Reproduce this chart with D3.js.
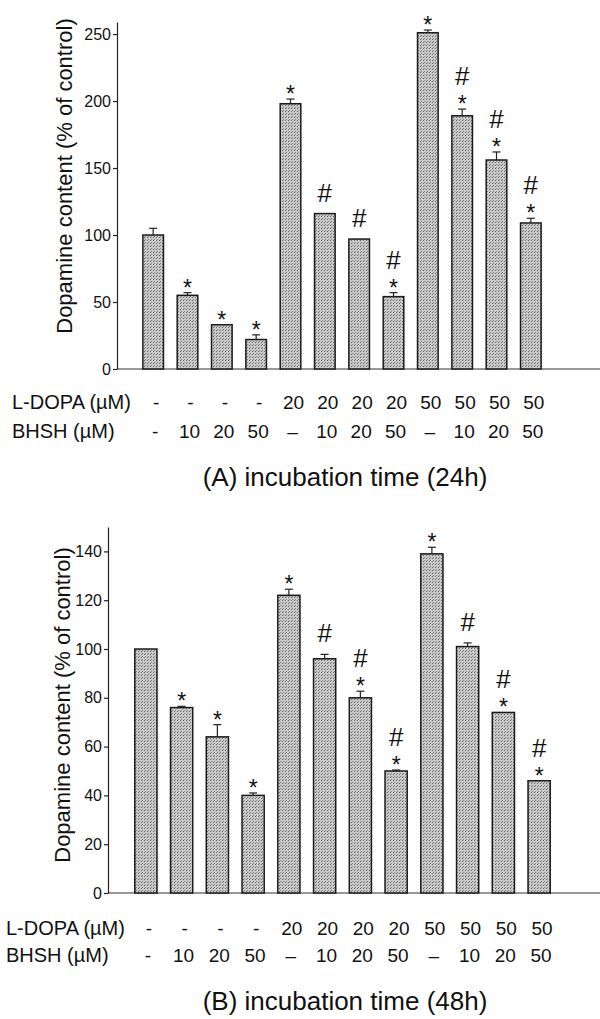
<!DOCTYPE html>
<html lang="en">
<head>
<meta charset="utf-8">
<title>Dopamine content</title>
<script src="https://cdn.jsdelivr.net/npm/d3@7/dist/d3.min.js"></script>
<style>
  body { margin: 0; background: #fff; }
  svg text { font-family: "Liberation Sans", Arial, sans-serif; fill: #111; }
  .axis path, .axis line { stroke: #222; stroke-width: 1.2; }
  .axis text { font-size: 16px; }
</style>
</head>
<body>
<script>
// treatment labels (same for both panels)
var ldopa = ["-", "-", "-", "-", "20", "20", "20", "20", "50", "50", "50", "50"];
var bhsh  = ["-", "10", "20", "50", "\u2013", "10", "20", "50", "\u2013", "10", "20", "50"];

// (A) 24h
var values24 = [100, 55, 33, 22, 198, 116, 97, 54, 251, 189, 156, 109];
var err24    = [5, 2, 0, 3.5, 3.5, 0, 0, 3, 2, 5, 6, 3.5];
var star24   = [0, 1, 1, 1, 1, 0, 0, 1, 1, 1, 1, 1];
var hash24   = [0, 0, 0, 0, 0, 1, 1, 1, 0, 1, 1, 1];
var ticks24  = [0, 50, 100, 150, 200, 250];

// (B) 48h
var values48 = [100, 76, 64, 40, 122, 96, 80, 50, 139, 101, 74, 46];
var err48    = [0, 0.5, 5, 1, 2.5, 1.8, 2.7, 0.4, 2.7, 1.5, 0, 0];
var star48   = [0, 1, 1, 1, 1, 0, 1, 1, 1, 0, 1, 1];
var hash48   = [0, 0, 0, 0, 0, 1, 1, 1, 0, 1, 1, 1];
var ticks48  = [0, 20, 40, 60, 80, 100, 120, 140];

var w = 600, h = 1019;
var svg = d3.select("body").append("svg").attr("width", w).attr("height", h);

// stippled grey fill like the scanned bars
var defs = svg.append("defs");
var pat = defs.append("pattern").attr("id", "stip")
    .attr("width", 3).attr("height", 3).attr("patternUnits", "userSpaceOnUse");
pat.append("rect").attr("width", 3).attr("height", 3).attr("fill", "#c9c9c9");
pat.append("rect").attr("x", 0).attr("y", 0).attr("width", 1).attr("height", 1).attr("fill", "#666");
pat.append("rect").attr("x", 1).attr("y", 2).attr("width", 1).attr("height", 1).attr("fill", "#858585");

var idx = d3.range(12);

function panel(o) {
    var g = svg.append("g");
    var x = d3.scaleBand().domain(idx).range(o.xr).paddingInner(o.pad).paddingOuter(o.pad / 2);
    var y = d3.scaleLinear().domain([0, o.ymax]).range(o.yr);

    // x baseline
    g.append("line")
        .attr("x1", o.ax).attr("x2", 600)
        .attr("y1", y(0)).attr("y2", y(0))
        .attr("stroke", "#333").attr("stroke-width", 1.2);

    g.append("g").attr("class", "axis")
        .attr("transform", "translate(" + o.ax + ",0)")
        .call(d3.axisLeft(y).tickValues(o.ticks).tickSize(4).tickSizeOuter(0).tickPadding(2))
        .selectAll("text").style("font-size", o.tickFont + "px");

    g.selectAll("rect.bar").data(o.vals).enter().append("rect")
        .attr("class", "bar")
        .attr("x", function(d, i) { return x(i); })
        .attr("y", function(d) { return y(d); })
        .attr("width", x.bandwidth())
        .attr("height", function(d) { return y(0) - y(d); })
        .attr("fill", "url(#stip)")
        .attr("stroke", "#1a1a1a").attr("stroke-width", 1.5);

    // error bars
    idx.forEach(function(i) {
        if (!o.err[i]) return;
        var cx = x(i) + x.bandwidth() / 2;
        var yt = y(o.vals[i] + o.err[i]);
        g.append("line").attr("x1", cx).attr("x2", cx)
            .attr("y1", y(o.vals[i])).attr("y2", yt)
            .attr("stroke", "#222").attr("stroke-width", 1.2);
        g.append("line").attr("x1", cx - 4).attr("x2", cx + 4)
            .attr("y1", yt).attr("y2", yt)
            .attr("stroke", "#222").attr("stroke-width", 1.2);
    });

    // significance marks: * just over the bar, # stacked above it
    idx.forEach(function(i) {
        var cx = x(i) + x.bandwidth() / 2;
        var top = y(o.vals[i] + o.err[i]);
        var hashY = top - 12;
        if (o.star[i]) {
            g.append("text").attr("x", cx).attr("y", top + 3)
                .attr("text-anchor", "middle").style("font-size", "23px").text("*");
            hashY = top + 3 - 27;
        }
        if (o.hash[i]) {
            g.append("text").attr("x", cx).attr("y", hashY)
                .attr("text-anchor", "middle").style("font-size", "26px").text("#");
        }
    });

    // y title
    g.append("text")
        .attr("transform", "translate(" + o.titleX + "," + o.titleY + ") rotate(-90)")
        .attr("text-anchor", "middle")
        .style("font-size", "22px")
        .text("Dopamine content (% of control)");

    // treatment rows
    g.append("text").attr("x", o.rowX).attr("y", o.row1).style("font-size", "20px").text("L-DOPA (\u00b5M)");
    g.append("text").attr("x", o.rowX).attr("y", o.row2).style("font-size", "20px").text("BHSH (\u00b5M)");
    g.selectAll("text.l1").data(ldopa).enter().append("text").attr("class", "l1")
        .attr("x", function(d, i) { return x(i) + x.bandwidth() / 2 + 3; })
        .attr("y", o.row1).attr("text-anchor", "middle").style("font-size", "19px")
        .text(function(d) { return d; });
    g.selectAll("text.l2").data(bhsh).enter().append("text").attr("class", "l2")
        .attr("x", function(d, i) { return x(i) + x.bandwidth() / 2 + 2; })
        .attr("y", o.row2).attr("text-anchor", "middle").style("font-size", "19px")
        .text(function(d) { return d; });

    g.append("text").attr("x", 345).attr("y", o.capY)
        .attr("text-anchor", "middle").style("font-size", "26px")
        .text(o.caption);
}

panel({
    vals: values24, err: err24, star: star24, hash: hash24, ticks: ticks24,
    ymax: 259, yr: [369, 22], xr: [136, 548], pad: 0.4, ax: 117, tickFont: 16,
    titleX: 72, titleY: 176, rowX: 12, row1: 409, row2: 438, capY: 486,
    caption: "(A)  incubation time (24h)"
});

panel({
    vals: values48, err: err48, star: star48, hash: hash48, ticks: ticks48,
    ymax: 150, yr: [893, 527], xr: [128, 557], pad: 0.38, ax: 108, tickFont: 16,
    titleX: 70, titleY: 705, rowX: 6, row1: 935, row2: 962, capY: 1010,
    caption: "(B) incubation time (48h)"
});
</script>
</body>
</html>
